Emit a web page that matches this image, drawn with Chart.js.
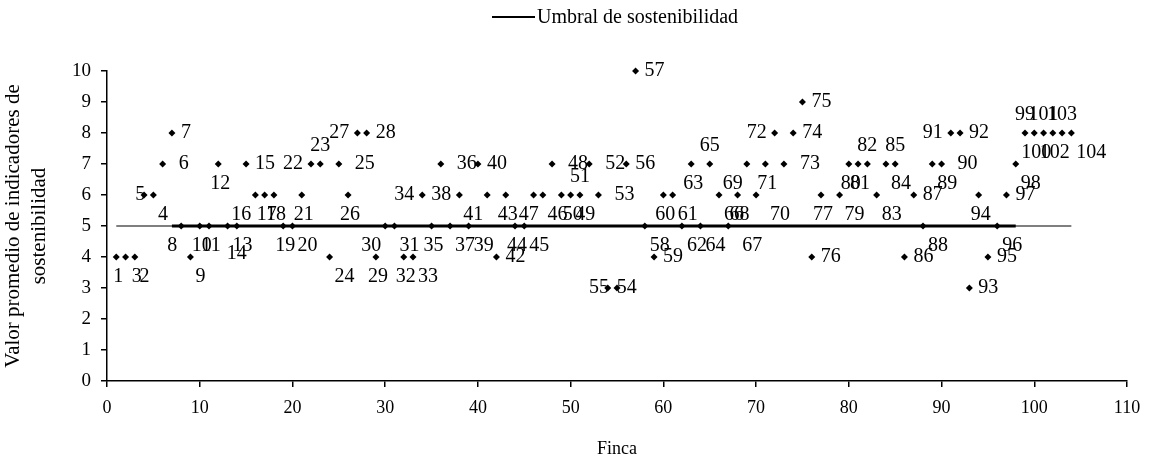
<!DOCTYPE html>
<html>
<head>
<meta charset="utf-8">
<title>Umbral de sostenibilidad</title>
<script src="https://cdn.jsdelivr.net/npm/chart.js@4.4.1/dist/chart.umd.min.js"></script>
<style>
  html, body { margin: 0; padding: 0; background: #fff; }
  #wrap { width: 1153px; height: 464px; }
</style>
</head>
<body>
<div id="wrap"><canvas id="chart" width="1153" height="464"></canvas></div>
<script>
// Finca numbers (78 does not appear in the picture)
const fincas = [1,2,3,4,5,6,7,8,9,10,11,12,13,14,15,16,17,18,19,20,
  21,22,23,24,25,26,27,28,29,30,31,32,33,34,35,36,37,38,39,40,
  41,42,43,44,45,46,47,48,49,50,51,52,53,54,55,56,57,58,59,60,
  61,62,63,64,65,66,67,68,69,70,71,72,73,74,75,76,77,79,80,
  81,82,83,84,85,86,87,88,89,90,91,92,93,94,95,96,97,98,99,100,
  101,102,103,104];

// Average value of sustainability indicators for each finca
const valores = [4,4,4,6,6,7,8,5,4,5,5,7,5,5,7,6,6,6,5,5,
  6,7,7,4,7,6,8,8,4,5,5,4,4,6,5,7,5,6,5,7,
  6,4,6,5,5,6,6,7,6,6,6,7,6,3,3,7,10,5,4,6,
  6,5,7,5,7,6,5,6,7,6,7,8,7,8,9,4,6,6,7,
  7,7,6,7,7,4,6,5,7,7,8,8,3,6,4,5,6,7,8,8,
  8,8,8,8];

const umbral = 5;
const umbralDesde = 1, umbralHasta = 104;

// where each point label sits relative to its marker
const defaultPlace = 'b';
const labelPlace = {
  2:'brr', 4:'brr', 5:'l', 6:'rr', 7:'r', 8:'bl', 9:'br', 13:'br', 14:'bb', 15:'r', 16:'bl',
  20:'br', 22:'l', 23:'a', 24:'br', 25:'rr', 27:'l', 28:'r', 30:'bl', 31:'br', 33:'br', 34:'l',
  36:'rr', 37:'br', 38:'l', 39:'br', 40:'r', 41:'bl', 42:'r', 45:'br', 46:'brr', 47:'bl',
  48:'rr', 49:'brr', 51:'a', 52:'rr', 53:'rr', 54:'r', 55:'l', 56:'r', 57:'r', 58:'br',
  59:'r', 61:'br', 62:'br', 64:'br', 65:'a', 66:'br', 67:'brr', 69:'bl', 70:'brr', 72:'l',
  73:'rr', 74:'r', 75:'r', 76:'r', 79:'br', 82:'a', 83:'br', 84:'br', 85:'a', 86:'r',
  87:'r', 88:'br', 89:'br', 90:'rr', 91:'l', 92:'r', 93:'r', 95:'r', 96:'br', 97:'r',
  98:'br', 99:'a', 101:'a', 103:'a', 104:'br'
};
const placeOffsets = {
  r:   { dx: 9,  dy: 0,   align: 'left' },
  rr:  { dx: 16, dy: 0,   align: 'left' },
  l:   { dx: -8, dy: 0,   align: 'right' },
  a:   { dx: 0,  dy: -18, align: 'center' },
  b:   { dx: 2,  dy: 20,  align: 'center' },
  bb:  { dx: 0,  dy: 28,  align: 'center' },
  br:  { dx: 5,  dy: 20,  align: 'left' },
  brr: { dx: 14, dy: 20,  align: 'left' },
  bl:  { dx: -4, dy: 20,  align: 'right' }
};

const FONT = '"Liberation Serif", "Times New Roman", serif';

const puntos = fincas.map((f, i) => ({ x: f, y: valores[i] }));

const pointLabels = {
  id: 'pointLabels',
  afterDatasetsDraw(chart) {
    const ctx = chart.ctx;
    const meta = chart.getDatasetMeta(0);
    ctx.save();
    ctx.font = '20px ' + FONT;
    ctx.fillStyle = '#000';
    ctx.textBaseline = 'middle';
    meta.data.forEach((el, i) => {
      const f = fincas[i];
      const o = placeOffsets[labelPlace[f] || defaultPlace];
      ctx.textAlign = o.align;
      ctx.fillText(String(f), el.x + o.dx, el.y + o.dy);
    });
    ctx.restore();
  }
};

const legendDraw = {
  id: 'legendDraw',
  afterDraw(chart) {
    const ctx = chart.ctx;
    ctx.save();
    ctx.strokeStyle = '#000';
    ctx.lineWidth = 2;
    ctx.beginPath();
    ctx.moveTo(492, 17);
    ctx.lineTo(535, 17);
    ctx.stroke();
    ctx.font = '20px ' + FONT;
    ctx.fillStyle = '#000';
    ctx.textAlign = 'left';
    ctx.textBaseline = 'middle';
    ctx.fillText('Umbral de sostenibilidad', 537, 18);
    ctx.restore();
  }
};

const ctx = document.getElementById('chart').getContext('2d');
new Chart(ctx, {
  type: 'scatter',
  data: {
    datasets: [
      {
        label: 'Fincas',
        data: puntos,
        pointStyle: 'rectRot',
        pointRadius: 3.5,
        backgroundColor: '#000',
        borderColor: '#000',
        borderWidth: 0,
        clip: false
      },
      {
        type: 'line',
        label: 'Umbral de sostenibilidad',
        data: [{ x: umbralDesde, y: umbral }, { x: umbralHasta, y: umbral }],
        borderColor: '#000',
        borderWidth: 1.2,
        pointRadius: 0,
        fill: false
      },
      {
        type: 'line',
        label: 'Umbral (tramo)',
        data: [{ x: 7, y: umbral }, { x: 98, y: umbral }],
        borderColor: '#000',
        borderWidth: 3,
        pointRadius: 0,
        fill: false
      }
    ]
  },
  options: {
    responsive: false,
    animation: false,
    layout: { padding: { top: 71, right: 26, left: 0, bottom: 0 } },
    plugins: {
      legend: { display: false },
      tooltip: { enabled: false }
    },
    scales: {
      x: {
        type: 'linear',
        min: 0,
        max: 110,
        afterFit(scale) { scale.height = 83; },
        grid: { display: true, drawOnChartArea: false, color: '#000', tickLength: 6, lineWidth: 1.5 },
        border: { color: '#000', width: 1.5 },
        ticks: { stepSize: 10, color: '#000', padding: 10, font: { family: FONT, size: 18 } },
        title: { display: true, text: 'Finca', color: '#000', padding: { top: 8 }, font: { family: FONT, size: 18 } }
      },
      y: {
        min: 0,
        max: 10,
        afterFit(scale) { scale.width = 107; },
        grid: { display: true, drawOnChartArea: false, color: '#000', tickLength: 6, lineWidth: 1.5 },
        border: { color: '#000', width: 1.5 },
        ticks: { stepSize: 1, color: '#000', padding: 10, font: { family: FONT, size: 19 } },
        title: {
          display: true,
          text: ['Valor promedio de indicadores de', 'sostenibilidad'],
          color: '#000',
          padding: { top: 0, bottom: 4 },
          font: { family: FONT, size: 21, lineHeight: 1.25 }
        }
      }
    }
  },
  plugins: [pointLabels, legendDraw]
});
</script>
</body>
</html>
